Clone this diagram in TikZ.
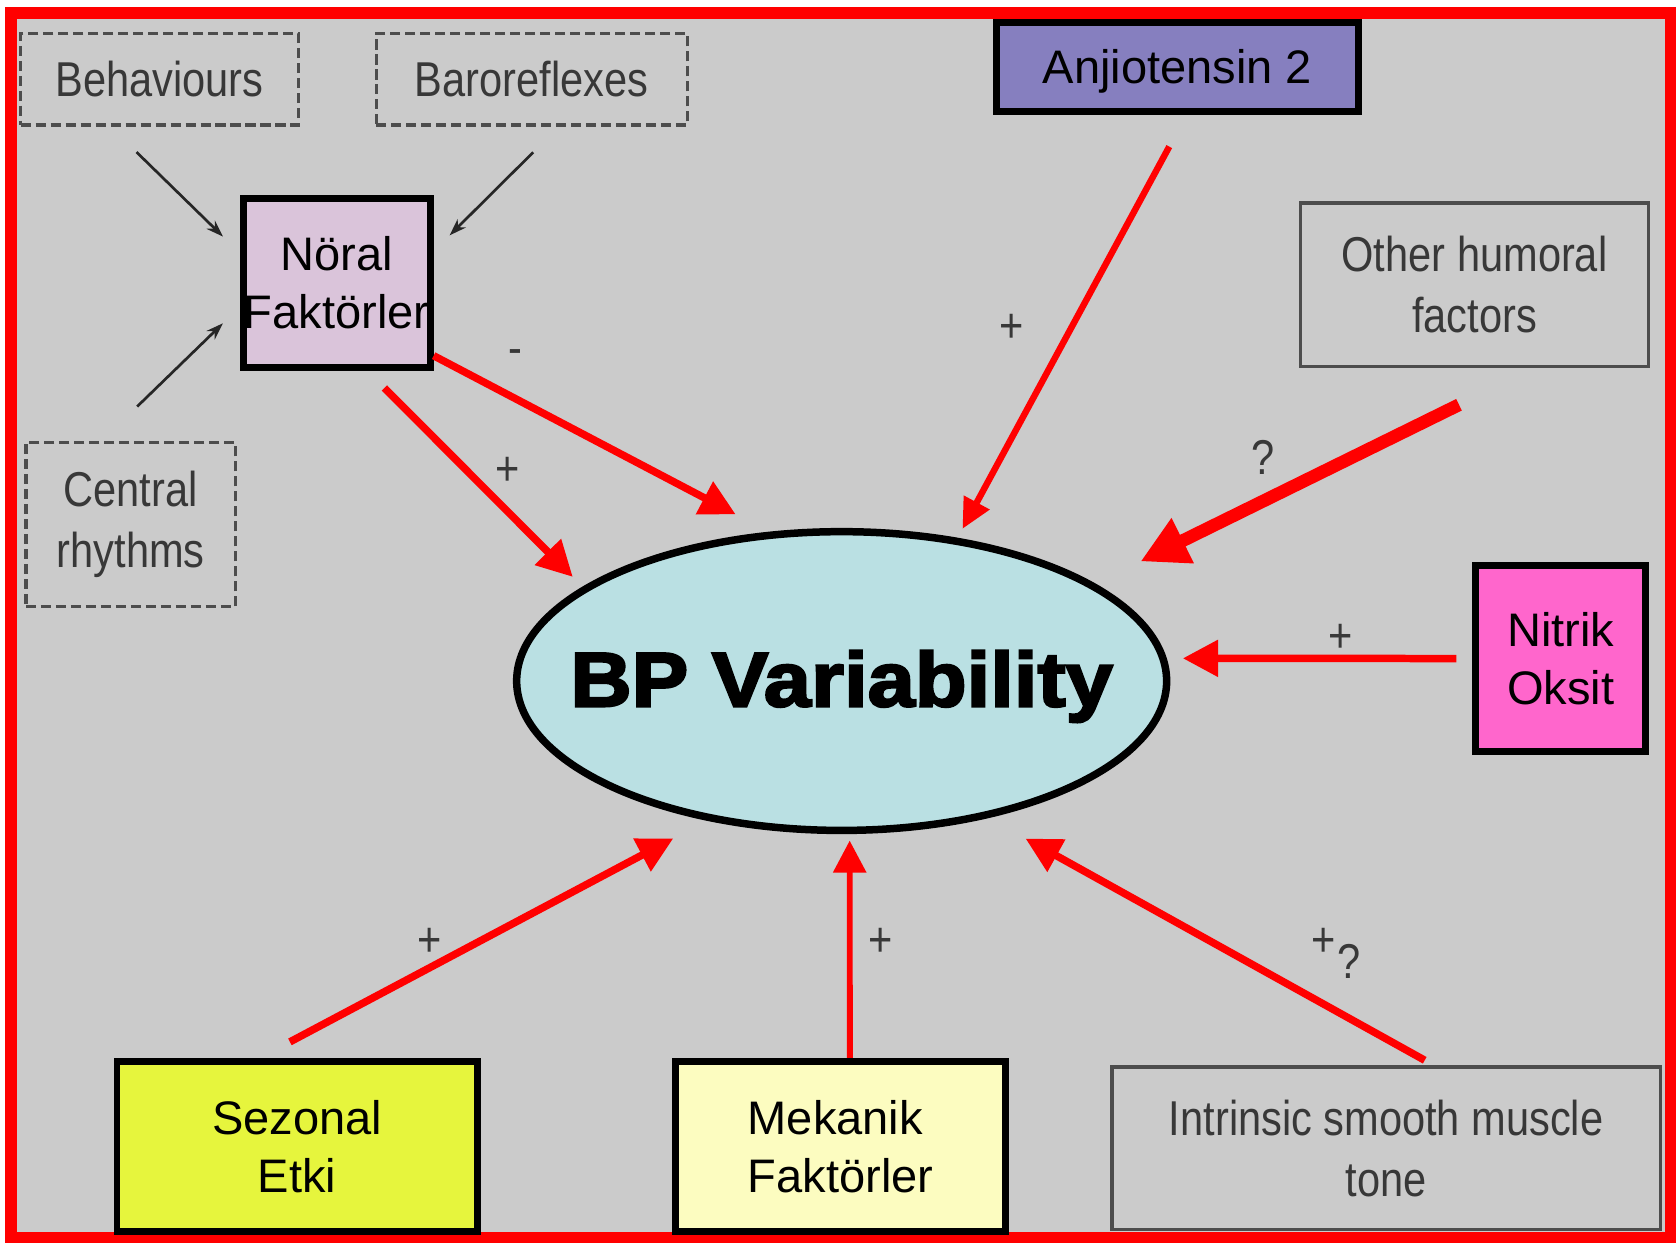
\documentclass[tikz,border=0pt]{standalone}
\usepackage{fontspec}
\setmainfont{Liberation Sans}
\newfontfamily\grayfont[FakeStretch=0.85]{Liberation Sans}
\newfontfamily\heavyfont[FakeStretch=1.1,FakeBold=3]{Liberation Sans Bold}
\usepackage{tikz}
\usetikzlibrary{
  positioning,
  arrows.meta,
  shapes.geometric
}
\definecolor{bggray}{HTML}{CBCBCB}
\definecolor{framered}{HTML}{FF0000}
\definecolor{textgray}{HTML}{383838}
\definecolor{boxgray}{HTML}{4D4D4D}
\definecolor{noralfill}{HTML}{DAC4DA}
\definecolor{anjiofill}{HTML}{867FBF}
\definecolor{nitrikfill}{HTML}{FF66CC}
\definecolor{sezonalfill}{HTML}{E6F53D}
\definecolor{mekanikfill}{HTML}{FCFCC0}
\definecolor{bpfill}{HTML}{BAE0E3}
\tikzstyle{factor}=[draw=black, line width=0.065cm, inner sep=0pt, align=center, font=\fontsize{12.5}{15.4}\selectfont]
\tikzstyle{oldfactor}=[draw=boxgray, line width=0.03cm, inner sep=0pt, align=center, text=textgray, font=\grayfont\fontsize{13}{16.2}\selectfont]
\tikzstyle{dashfactor}=[oldfactor, dash pattern=on 0.095cm off 0.045cm, line width=0.03cm]
\tikzstyle{effect}=[draw=framered, line width=0.07cm, -{Triangle[length=0.33cm,width=0.33cm]}]
\tikzstyle{feed}=[draw=black!85, line width=0.025cm, -{Stealth[length=0.16cm,width=0.11cm]}]
\tikzstyle{sign}=[text=textgray, inner sep=0pt, font=\grayfont\fontsize{13}{16}\selectfont]

\begin{document}
\begin{tikzpicture}
    % 背景と赤枠
    \useasboundingbox (0,0) rectangle (15.68,-11.60);
    \fill[white] (0,0) rectangle (15.68,-11.60);
    \draw[framered, line width=0.11cm, fill=bggray] (0.105,-0.12) rectangle (15.60,-11.56);

    % 中心の楕円
    \node[ellipse, draw=black, line width=0.07cm, fill=bpfill, minimum width=6.07cm, minimum height=2.79cm, inner sep=0pt,
      label={[font=\heavyfont\fontsize{20.5}{24}\selectfont, yshift=-0.05cm]center:BP Variability}] (bp) at (7.86,-6.36) {};

    % 要因のボックス
    \node[factor, fill=noralfill, minimum width=1.745cm, minimum height=1.575cm] (noral) at (3.145,-2.64) {Nöral\\Faktörler};
    \node[factor, fill=anjiofill, minimum width=3.385cm, minimum height=0.825cm, text depth=0pt] (anjio) at (10.995,-0.625) {Anjiotensin 2};
    \node[factor, fill=nitrikfill, minimum width=1.585cm, minimum height=1.735cm, align=left] (nitrik) at (14.575,-6.15) {Nitrik\\Oksit};
    \node[factor, fill=sezonalfill, minimum width=3.365cm, minimum height=1.585cm] (sezonal) at (2.775,-10.705) {Sezonal\\Etki};
    \node[factor, fill=mekanikfill, minimum width=3.075cm, minimum height=1.585cm, align=left] (mekanik) at (7.85,-10.705) {Mekanik\\Faktörler};

    % 元の図の灰色ボックス
    \node[dashfactor, minimum width=2.595cm, minimum height=0.855cm] (behav) at (1.49,-0.74) {Behaviours};
    \node[dashfactor, minimum width=2.905cm, minimum height=0.855cm] (baro) at (4.965,-0.74) {Baroreflexes};
    \node[dashfactor, minimum width=1.955cm, minimum height=1.535cm] (central) at (1.22,-4.90) {Central\\rhythms};
    \node[oldfactor, minimum width=3.25cm, minimum height=1.53cm] (other) at (13.77,-2.66) {Other humoral\\factors};
    \node[oldfactor, minimum width=5.12cm, minimum height=1.52cm] (intrinsic) at (12.945,-10.725) {Intrinsic smooth muscle\\tone};

    % 赤い矢印
    \draw[effect, shorten >=0.35cm] (noral.-37) -- (bp.116);
    \draw[effect, shorten <=0.23cm, shorten >=0.13cm] (noral.-71) -- (bp.160);
    \draw[effect, line width=0.06cm, -{Triangle[length=0.28cm,width=0.26cm]}, shorten <=0.34cm, shorten >=0.095cm] (anjio.-79) -- (bp.51);
    \draw[effect, line width=0.12cm, -{Triangle[length=0.44cm,width=0.44cm]}, shorten <=0.77cm, shorten >=0.47cm] (other.-55) -- (bp.21);
    \draw[effect, shorten <=0.15cm, shorten >=0.15cm] (nitrik.west) -- (bp.4);
    \draw[effect, shorten <=0.32cm, shorten >=0.355cm] (sezonal.113) -- (bp.226);
    \draw[effect, line width=0.055cm, -{Triangle[length=0.3cm,width=0.3cm]}, shorten >=0.06cm] (mekanik.84) -- (bp.-87);
    \draw[effect, shorten <=0.1cm, shorten >=0.395cm] (intrinsic.60) -- (bp.-43);

    % 黒い細い矢印
    \draw[feed, shorten <=0.34cm, shorten >=0.22cm] (behav.224) -- (noral.163);
    \draw[feed, shorten <=0.34cm, shorten >=0.21cm] (baro.-60) -- (noral.18);
    \draw[feed, shorten <=0.46cm, shorten >=0.22cm] (central.109) -- (noral.194);

    % 符号
    \node[sign] (minus1) at (4.81,-3.33) {-};
    \node[sign] (plus1) at (4.74,-4.40) {+};
    \node[sign] (plus2) at (9.45,-3.07) {+};
    \node[sign] (quest1) at (11.80,-4.27) {?};
    \node[sign] (plus3) at (12.52,-5.96) {+};
    \node[sign] (plus4) at (4.01,-8.80) {+};
    \node[sign] (plus5) at (8.22,-8.80) {+};
    \node[sign] (plus6) at (12.36,-8.80) {+};
    \node[sign] (quest2) at (12.60,-8.98) {?};
\end{tikzpicture}
\end{document}
